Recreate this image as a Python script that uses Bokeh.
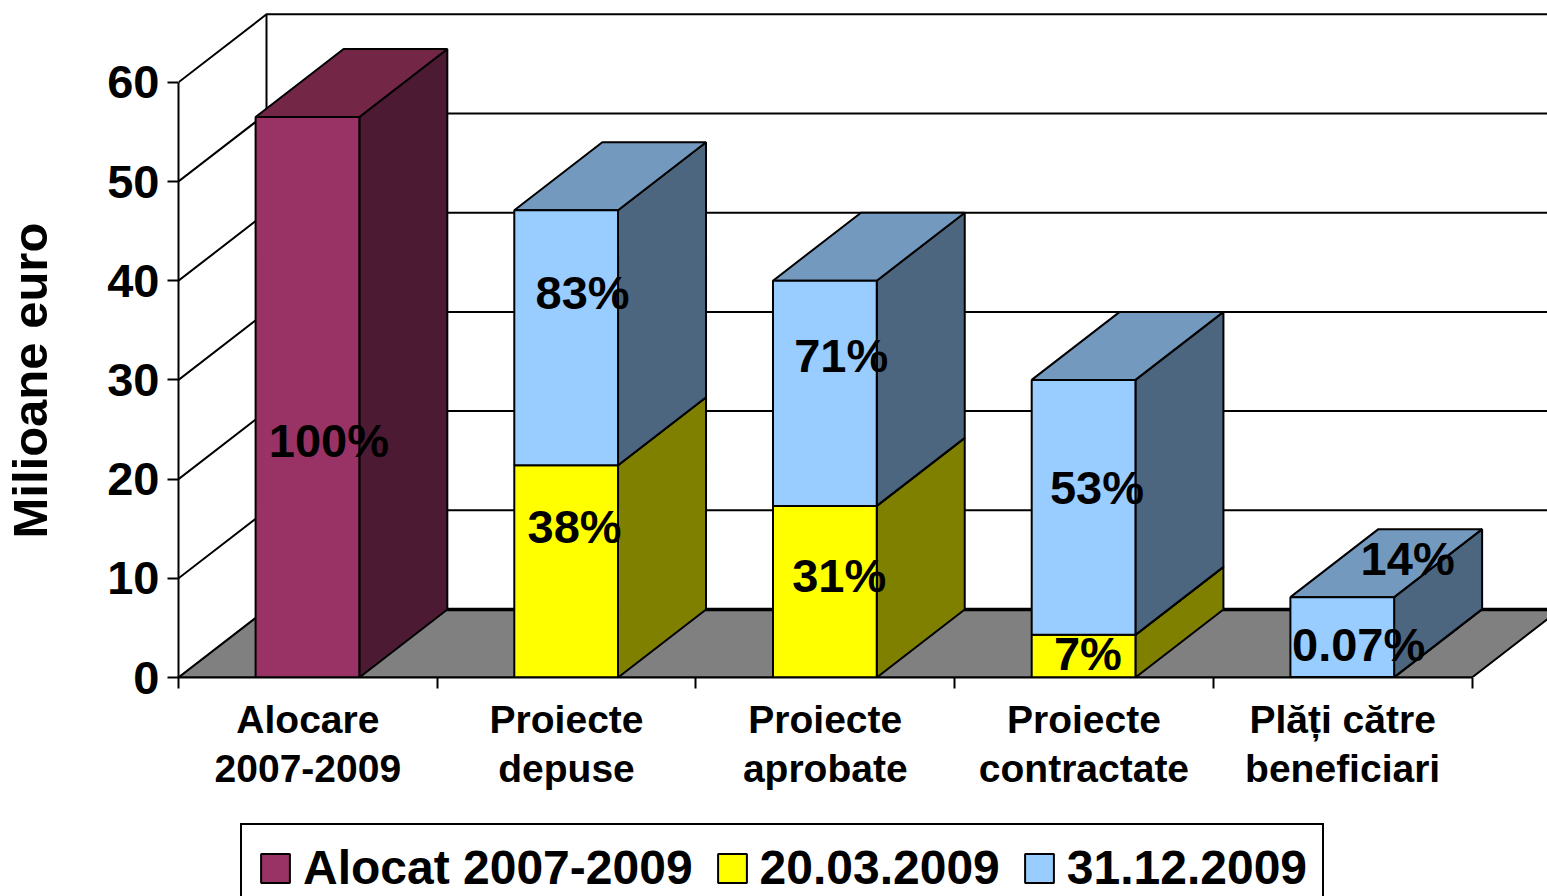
from bokeh.plotting import figure
from bokeh.layouts import column
from bokeh.models import ColumnDataSource, FixedTicker, Legend, LegendItem, Range1d, LinearAxis, Title
from bokeh.core.properties import value
from bokeh.embed import file_html
from bokeh.resources import INLINE

# ---- data ----
categories = ["Alocare\n2007-2009", "Proiecte\ndepuse", "Proiecte\naprobate",
              "Proiecte\ncontractate", "Plăți către\nbeneficiari"]
alocat = [56.5, 0, 0, 0, 0]
d20_03 = [0, 21.4, 17.3, 4.3, 0.05]
d31_12 = [0, 25.7, 22.7, 25.7, 8.05]
y_ticks = [0, 10, 20, 30, 40, 50, 60]
series_names = ["Alocat 2007-2009", "20.03.2009", "31.12.2009"]
y_title = "Milioane euro"

# labels: text, category index, value height
label_texts = ["100%", "83%", "38%", "71%", "31%", "53%", "7%", "14%", "0.07%"]
label_cat = [0, 1, 1, 2, 2, 3, 3, 4, 4]
label_val = [23.9, 38.8, 15.2, 32.5, 10.3, 19.2, 2.4, 12.0, 3.3]
label_dx_px = [21, 16, 8, 16, 14, 13, 4, 65, 16]

# ---- styling ----
FRONT = ["#993366", "#ffff00", "#99ccff"]
SIDE = ["#4d1a33", "#808000", "#4d6680"]
TOP = ["#732646", "#bfbf00", "#7399bf"]
FONT = "Liberation Sans"

PX_X = 258.7      # px per category
PX_Y = 9.92       # px per value unit
LEFT, BOTTOM = 178, 677   # page position of the origin
W, H = 1547, 896
H_LEGEND = 81

DX = 88 / PX_X    # depth of the 3-D box in category units
DY = 68 / PX_Y    # depth in value units
BL, BR = 0.298, 0.699  # bar edges inside a category

x_end = (W - LEFT) / PX_X
y_end = BOTTOM / PX_Y

p = figure(width=W, height=H - H_LEGEND,
           output_backend="svg", toolbar_location=None,
           x_range=Range1d(0, x_end), y_range=Range1d(0, y_end),
           min_border_left=LEFT, min_border_right=0, min_border_top=0,
           min_border_bottom=H - H_LEGEND - BOTTOM, background_fill_color="white",
           border_fill_color="white", outline_line_color=None,
           x_axis_type=None, y_axis_type=None)
p.grid.visible = False

# floor and walls
n = len(categories)
p.patch([0, n, n + DX, DX], [0, 0, DY, DY], fill_color="#808080", line_color="black", line_width=2)
p.line([DX, n + DX], [DY, DY], line_color="black", line_width=3.5)
wall_x = [[0, DX, x_end + 1] for t in y_ticks[1:]]
wall_y = [[t, t + DY, t + DY] for t in y_ticks[1:]]
p.multi_line(wall_x, wall_y, line_color="black", line_width=2)
p.line([DX, DX], [DY, y_ticks[-1] + DY], line_color="black", line_width=2)

# bars
bar_layers = [alocat, d20_03, d31_12]
base = [0.0] * n
for name, vals, fc, sc, tc in zip(series_names, bar_layers, FRONT, SIDE, TOP):
    left, right, bot, top = [], [], [], []
    for i in range(n):
        if vals[i] > 0:
            left.append(i + BL)
            right.append(i + BR)
            bot.append(base[i])
            top.append(base[i] + vals[i])
    src = ColumnDataSource(dict(left=left, right=right, bottom=bot, top=top))
    # side faces
    p.patches([[r, r + DX, r + DX, r] for r in right],
              [[b, b + DY, t + DY, t] for b, t in zip(bot, top)],
              fill_color=sc, line_color="black", line_width=2)
    # top faces
    p.patches([[l, r, r + DX, l + DX] for l, r in zip(left, right)],
              [[t, t, t + DY, t + DY] for t in top],
              fill_color=tc, line_color="black", line_width=2)
    p.quad(left="left", right="right", bottom="bottom", top="top", source=src,
           fill_color=fc, line_color="black", line_width=2)
    base = [b + v for b, v in zip(base, vals)]

# value labels
p.text([c + 0.5 for c in label_cat], label_val, text=label_texts,
       x_offset=label_dx_px, text_font=value(FONT), text_font_style="bold",
       text_font_size="47px", text_color="black", text_align="center", text_baseline="middle")

# axes
ya = LinearAxis(ticker=FixedTicker(ticks=y_ticks), bounds=(y_ticks[0], y_ticks[-1]))
ya.major_tick_out = 11
ya.major_tick_in = 0
ya.minor_tick_out = 0
ya.minor_tick_in = 0
ya.major_tick_line_width = 2
ya.axis_line_width = 2
ya.major_label_standoff = 8
ya.major_label_text_font = FONT
ya.major_label_text_font_style = "bold"
ya.major_label_text_font_size = "47px"
ya.major_label_text_color = "black"
p.add_layout(ya, "left")

# the blank second line pushes the title away from the axis, to the far left
ylab = Title(text=y_title + "\n ", align="left", offset=139, standoff=0,
             text_font=FONT, text_font_style="bold", text_font_size="49px",
             text_line_height=0.88, text_color="black")
p.add_layout(ylab, "left")

xa = LinearAxis(ticker=FixedTicker(ticks=[i + 0.5 for i in range(n)], minor_ticks=list(range(n + 1))),
                bounds=(0, n))
xa.major_label_overrides = {i + 0.5: c for i, c in enumerate(categories)}
xa.major_tick_out = 0
xa.major_tick_in = 0
xa.minor_tick_out = 11
xa.minor_tick_in = 0
xa.minor_tick_line_width = 2
xa.minor_tick_line_color = "black"
xa.axis_line_width = 2
xa.major_label_standoff = 9
xa.major_label_text_line_height = 1.15
xa.major_label_text_font = FONT
xa.major_label_text_font_style = "bold"
xa.major_label_text_font_size = "39px"
xa.major_label_text_color = "black"
p.add_layout(xa, "below")

# legend strip: a second figure under the chart, its frame aligned to the chart's
pl = figure(width=W, height=H_LEGEND, output_backend="svg", toolbar_location=None,
            x_range=Range1d(0, 1), y_range=Range1d(0, 1),
            min_border=0, outline_line_color=None, x_axis_type=None, y_axis_type=None)
pl.grid.visible = False
legend_items = []
for name, fc in zip(series_names, FRONT):
    # the swatch glyph lies outside the visible range; only the legend shows it
    r = pl.quad(left=[2], right=[3], bottom=[2], top=[3], fill_color=fc, line_color="black", line_width=2)
    legend_items.append(LegendItem(label=name, renderers=[r]))

legend = Legend(items=legend_items, orientation="horizontal",
                location=(241 - LEFT - 1, -16), padding=15, margin=0, spacing=21,
                glyph_width=36, glyph_height=36, label_standoff=10,
                label_text_font=FONT, label_text_font_style="bold",
                label_text_font_size="48px", label_text_color="black",
                border_line_color="black", border_line_width=2, border_line_alpha=1,
                background_fill_color="white", background_fill_alpha=1)
pl.add_layout(legend, "center")

open("out.html", "w").write(file_html(column(p, pl, spacing=0), INLINE))
